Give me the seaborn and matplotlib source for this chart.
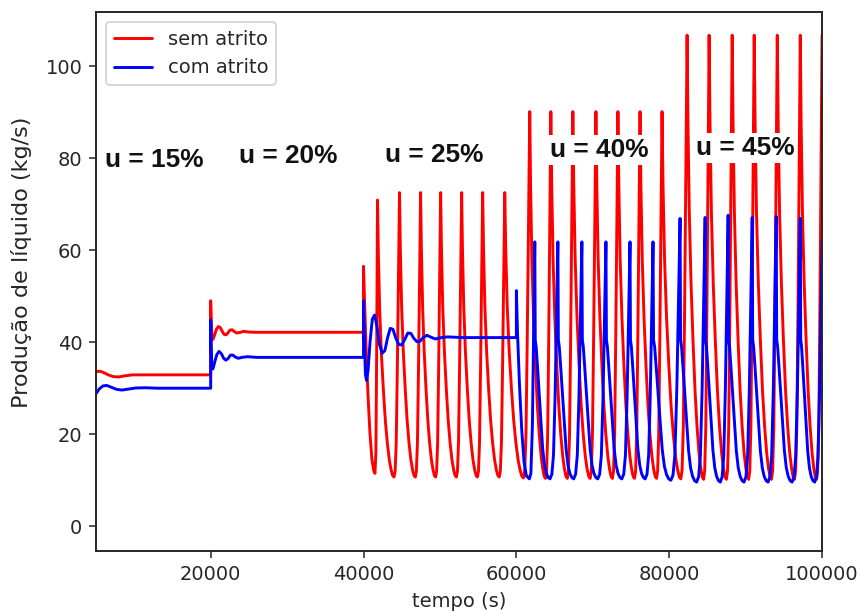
import numpy as np
import pandas as pd
import matplotlib
matplotlib.use("Agg")
import matplotlib.pyplot as plt
import seaborn as sns

# ---------------------------------------------------------------------------
# Data (time in s, liquid production in kg/s)
# ---------------------------------------------------------------------------
series_names = ["sem atrito", "com atrito"]
series_colors = ["#ff0000", "#0000ff"]

# "sem atrito": steady / transient part (u = 15 %, 20 %, start of 25 %)
red_lead_t = [5000, 5500, 6000, 6600, 7300, 8000, 8800, 9800, 11000, 20000,
              20001, 20080, 20180, 20300, 20500, 20750, 21000, 21250, 21500,
              21750, 22000, 22250, 22500, 22800, 23100, 23400, 23800, 24300,
              25000, 26000, 40000,
              40001, 40150, 40350, 40600, 40850, 41100, 41350, 41500, 41620, 41730]
red_lead_v = [33.6, 33.7, 33.4, 32.9, 32.5, 32.45, 32.7, 32.9, 32.9, 32.9,
              49.0, 44.0, 40.8, 40.6, 41.5, 42.8, 43.4, 43.2, 42.4,
              41.7, 41.6, 42.0, 42.6, 42.7, 42.3, 42.0, 42.1, 42.35,
              42.2, 42.15, 42.15,
              56.5, 48.0, 38.0, 28.0, 20.0, 14.5, 12.0, 11.5, 16.0, 40.0]

# "sem atrito": oscillation peaks (u = 25 %, 40 %, 45 %)
red_peak_t = [41830, 44710, 47470, 50090, 52840, 55590, 58480,
              61750, 64510, 67390, 70410, 73290, 76180, 79060,
              82340, 85220, 88240, 91120, 94140, 97150, 100000]
red_peak_v = [70.9, 72.5, 72.5, 72.5, 72.5, 72.5, 72.5,
              90.1, 90.1, 90.1, 90.1, 90.1, 90.1, 90.1,
              106.7, 106.7, 106.7, 106.7, 106.7, 106.7, 106.7]
# trough between consecutive peaks
red_trough_v = [10.7, 10.7, 10.7, 10.7, 10.7, 10.7, 10.5,
                10.4, 10.4, 10.4, 10.4, 10.4, 10.4, 10.3,
                10.2, 10.2, 10.2, 10.2, 10.2, 10.2]

# "com atrito": steady / transient part (u = 15 %, 20 %, 25 %, start of 40 %)
blue_lead_t = [5000, 5400, 5900, 6400, 7000, 7700, 8400, 9200, 10200, 11500,
               13000, 20000,
               20001, 20080, 20180, 20300, 20550, 20800, 21100, 21400, 21700,
               22000, 22300, 22600, 22900, 23200, 23600, 24100, 24800, 26000,
               40000,
               40001, 40120, 40250, 40400, 40600, 40850, 41150, 41450, 41750,
               42100, 42450, 42800, 43150, 43500, 43850, 44200, 44600, 45000,
               45400, 45800, 46200, 46600, 47000, 47400, 47800, 48300, 48800,
               49400, 50200, 51000, 53000, 60000,
               60001, 60150, 60400, 60700, 61000, 61300, 61700, 61900, 62100, 62250]
blue_lead_v = [28.8, 29.8, 30.5, 30.6, 30.2, 29.75, 29.6, 29.8, 30.05, 30.1,
               30.0, 30.0,
               44.8, 38.0, 34.2, 34.2, 35.8, 37.3, 38.0, 37.5, 36.5,
               36.1, 36.5, 37.2, 37.2, 36.8, 36.5, 36.7, 36.85, 36.7,
               36.7,
               49.0, 40.0, 33.0, 31.7, 34.0, 40.0, 45.0, 45.9, 43.5,
               39.5, 37.6, 38.2, 41.0, 43.0, 42.8, 41.0, 39.5, 39.4,
               40.6, 42.0, 41.9, 40.8, 40.1, 40.2, 41.0, 41.5, 41.1,
               40.7, 41.0, 41.15, 41.0, 41.0,
               51.2, 42.0, 31.0, 21.0, 14.0, 11.0, 10.3, 11.5, 22.0, 42.0]

# "com atrito": oscillation peaks (u = 40 %, 45 %)
blue_peak_t = [62410, 65430, 68570, 71720, 74870, 77880,
               81420, 84700, 87710, 90860, 94000, 97150, 100000]
blue_peak_v = [61.8, 61.8, 61.8, 61.8, 61.8, 61.8,
               66.9, 67.1, 67.6, 67.1, 67.3, 66.9, 62.0]
blue_trough_v = [10.3, 10.3, 10.3, 10.3, 10.3, 10.0,
                 9.6, 9.6, 9.6, 9.6, 9.6, 9.6]
blue_shoulder_v = 40.5

# cycle outlines: (fraction of the cycle, fraction of the swing)
red_fall_shape = [(0.04, 0.80), (0.10, 0.60), (0.18, 0.44), (0.27, 0.31),
                  (0.36, 0.20), (0.45, 0.12), (0.54, 0.06), (0.62, 0.025),
                  (0.69, 0.005), (0.75, 0.0)]
red_rise_shape = [(0.80, 0.02), (0.85, 0.12), (0.90, 0.38), (0.95, 0.70)]
blue_fall_shape = [(0.02, 1.0), (0.06, 0.95), (0.12, 0.80), (0.21, 0.56),
                   (0.28, 0.38), (0.34, 0.22), (0.42, 0.10), (0.50, 0.04),
                   (0.58, 0.01), (0.66, 0.0)]
blue_rise_shape = [(0.74, 0.02), (0.81, 0.10), (0.88, 0.35), (0.94, 0.68)]

# u labels
u_labels = ["u = 15%", "u = 20%", "u = 25%", "u = 40%", "u = 45%"]
u_x = [12600, 30200, 49200, 70900, 89900]
u_y = [79.6, 80.5, 80.7, 81.8, 82.2]


def build_series(lead_t, lead_v, peak_t, peak_v, trough_v,
                 fall_shape, rise_shape, shoulder=None):
    t = list(lead_t)
    v = list(lead_v)
    n = len(peak_t)
    for i in range(n):
        if i > 0:
            t0 = peak_t[i - 1]
            span = peak_t[i] - t0
            lo = trough_v[i - 1]
            for ph, f in rise_shape:
                t.append(t0 + ph * span)
                v.append(lo + f * (peak_v[i] - lo))
        t.append(peak_t[i])
        v.append(peak_v[i])
        if i < n - 1:
            span = peak_t[i + 1] - peak_t[i]
            lo = trough_v[i]
            top = peak_v[i] if shoulder is None else shoulder
            for ph, f in fall_shape:
                t.append(peak_t[i] + ph * span)
                v.append(lo + f * (top - lo))
    return t, v


red_t, red_v = build_series(red_lead_t, red_lead_v, red_peak_t, red_peak_v,
                            red_trough_v, red_fall_shape, red_rise_shape)
blue_t, blue_v = build_series(blue_lead_t, blue_lead_v, blue_peak_t, blue_peak_v,
                              blue_trough_v, blue_fall_shape, blue_rise_shape,
                              shoulder=blue_shoulder_v)

df = pd.concat([
    pd.DataFrame({"tempo": red_t, "producao": red_v, "caso": series_names[0]}),
    pd.DataFrame({"tempo": blue_t, "producao": blue_v, "caso": series_names[1]}),
], ignore_index=True)

# ---------------------------------------------------------------------------
# Figure
# ---------------------------------------------------------------------------
sns.set_style("ticks")
plt.rcParams["font.family"] = ["DejaVu Sans"]
plt.rcParams["font.size"] = 10

fig = plt.figure(figsize=(859 / 140, 611 / 140), dpi=140)
ax = fig.add_axes([0.1118, 0.098, 0.8452, 0.882])

sns.lineplot(data=df, x="tempo", y="producao", hue="caso",
             hue_order=series_names, palette=dict(zip(series_names, series_colors)),
             estimator=None, sort=False, linewidth=1.5, ax=ax)

for s in ax.spines.values():
    s.set_visible(True)
    s.set_color("#262626")
    s.set_linewidth(1.0)

ax.set_xlim(5000, 100000)
ax.set_ylim(-5.4, 111.7)
ax.set_xticks([20000, 40000, 60000, 80000, 100000])
ax.set_yticks([0, 20, 40, 60, 80, 100])
ax.tick_params(labelsize=10, colors="#262626")
ax.set_xlabel("tempo (s)", fontsize=10)
ax.set_ylabel("Produção de líquido (kg/s)", fontsize=11.5)
ax.yaxis.set_label_coords(-0.088, 0.535)

handles, labels = ax.get_legend_handles_labels()
ax.legend(handles, labels, loc="upper left", fontsize=10, framealpha=0.8)

for lab, x, y in zip(u_labels, u_x, u_y):
    ax.text(x, y, lab, ha="center", va="center", fontsize=13.5, fontweight="bold",
            family="Liberation Sans", color="#111111", zorder=5,
            bbox=dict(boxstyle="square,pad=0.12", facecolor="white", edgecolor="none"))

fig.savefig("out.png", dpi=140)
